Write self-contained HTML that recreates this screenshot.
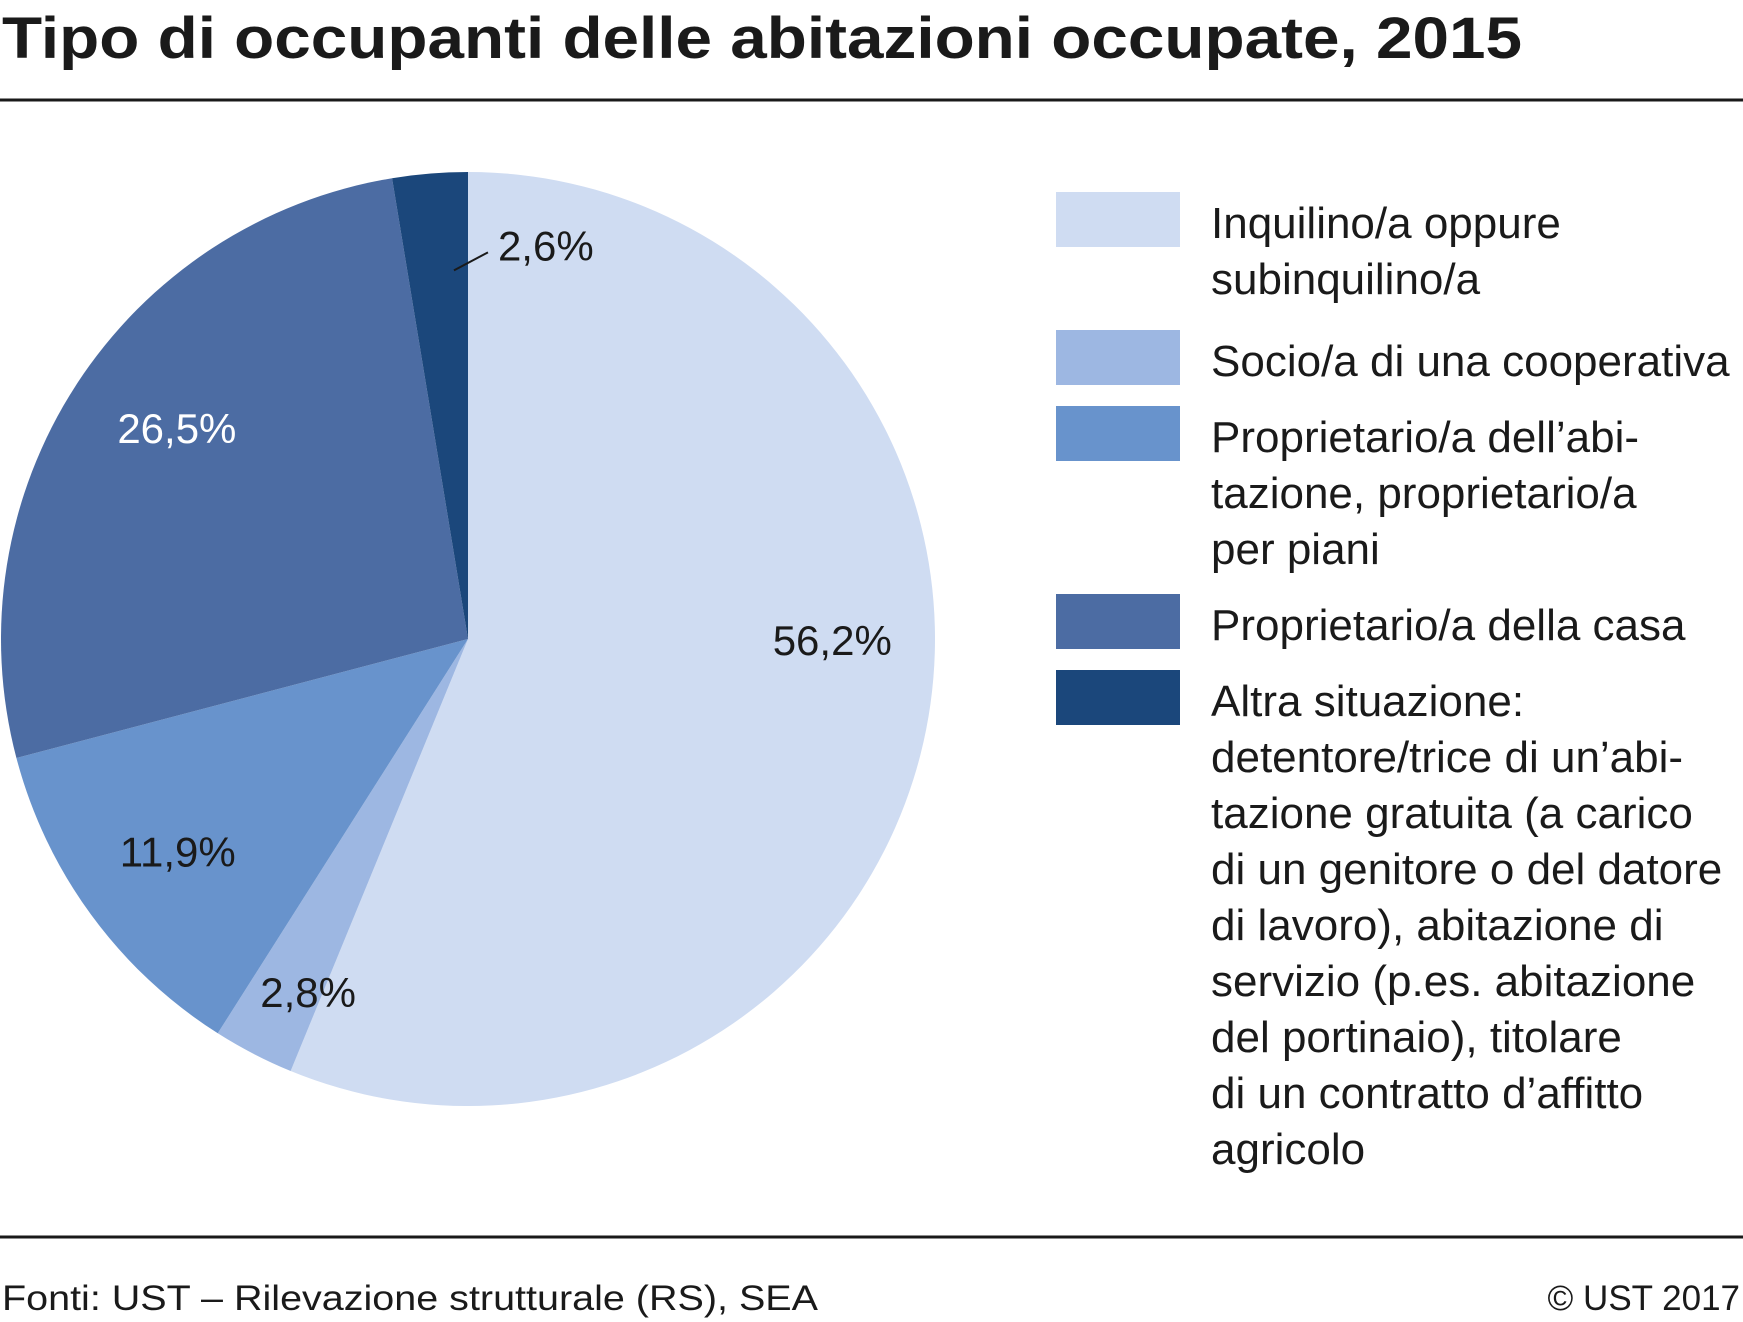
<!DOCTYPE html>
<html><head><meta charset="utf-8"><style>
body{margin:0;background:#fff}
svg{display:block;font-family:"Liberation Sans",sans-serif}
</style></head><body>
<svg width="1743" height="1322" viewBox="0 0 1743 1322">
<text x="2" y="58" font-size="58" font-weight="bold" fill="#1a1a1a" textLength="1520" lengthAdjust="spacingAndGlyphs">Tipo di occupanti delle abitazioni occupate, 2015</text>
<line x1="0" y1="100" x2="1743" y2="100" stroke="#1a1a1a" stroke-width="3"/>
<g id="pie"></g>
<g id="legend"></g>
<line x1="0" y1="1237" x2="1743" y2="1237" stroke="#1a1a1a" stroke-width="3"/>
<text x="2" y="1310" font-size="35" fill="#1a1a1a" textLength="816" lengthAdjust="spacingAndGlyphs">Fonti: UST – Rilevazione strutturale (RS), SEA</text>
<text x="1740" y="1310" font-size="35" fill="#1a1a1a" text-anchor="end">© UST 2017</text>
</svg>
<script>
const categories=["Inquilino/a oppure subinquilino/a","Socio/a di una cooperativa","Proprietario/a dell’abitazione","Proprietario/a della casa","Altra situazione"];
const values=[56.2,2.8,11.9,26.5,2.6];
const valueLabels=["56,2%","2,8%","11,9%","26,5%","2,6%"];
const colors=["#cfdcf2","#9db7e2","#6893cc","#4c6ca3","#1b477b"];
const legendLines=[["Inquilino/a oppure","subinquilino/a"],["Socio/a di una cooperativa"],["Proprietario/a dell’abi-","tazione, proprietario/a","per piani"],["Proprietario/a della casa"],["Altra situazione:","detentore/trice di un’abi-","tazione gratuita (a carico","di un genitore o del datore","di lavoro), abitazione di","servizio (p.es. abitazione","del portinaio), titolare","di un contratto d’affitto","agricolo"]];
const NS="http://www.w3.org/2000/svg";
const cx=468,cy=639,r=467;
const total=values.reduce((a,b)=>a+b,0);
const pie=document.getElementById('pie');
function pt(a,rr){return [cx+rr*Math.sin(a),cy-rr*Math.cos(a)];}
let a0=0;
const labelR=[0.78,0.83,0.77,0.77,0.79];
const labelShift=[-11,-3,0,3,2.5];
values.forEach((v,i)=>{
  const a1=a0+v/total*2*Math.PI;
  const p0=pt(a0,r),p1=pt(a1,r);
  const path=document.createElementNS(NS,'path');
  path.setAttribute('d',`M${cx},${cy}L${p0[0]},${p0[1]}A${r},${r} 0 ${a1-a0>Math.PI?1:0} 1 ${p1[0]},${p1[1]}Z`);
  path.setAttribute('fill',colors[i]);
  
  
  pie.appendChild(path);
  const am=(a0+a1)/2+labelShift[i]*Math.PI/180;
  const t=document.createElementNS(NS,'text');
  t.setAttribute('font-size','42');
  t.setAttribute('fill',i==3?'#fff':'#1a1a1a');
  if(i==4){
    const q1=pt(am,r*labelR[i]),q2=[q1[0]+34,q1[1]-18];
    const ln=document.createElementNS(NS,'line');
    ln.setAttribute('x1',q1[0]);ln.setAttribute('y1',q1[1]);ln.setAttribute('x2',q2[0]);ln.setAttribute('y2',q2[1]);
    ln.setAttribute('stroke','#1a1a1a');ln.setAttribute('stroke-width','2');
    
    
    pie.appendChild(ln);
    t.setAttribute('x',q2[0]+10);t.setAttribute('y',q2[1]+8);
  } else {
    const q=pt(am,r*labelR[i]);
    t.setAttribute('x',q[0]);t.setAttribute('y',q[1]+15);t.setAttribute('text-anchor','middle');
  }
  t.textContent=valueLabels[i];
  
  
  pie.appendChild(t);
  a0=a1;
});
const lg=document.getElementById('legend');
let y=192;
legendLines.forEach((lines,i)=>{
  const g=document.createElementNS(NS,'g');
  
  
  const rc=document.createElementNS(NS,'rect');
  rc.setAttribute('x',1056);rc.setAttribute('y',y);rc.setAttribute('width',124);rc.setAttribute('height',55);rc.setAttribute('fill',colors[i]);
  
  
  g.appendChild(rc);
  lines.forEach((s,j)=>{
    const t=document.createElementNS(NS,'text');
    t.setAttribute('x',1211);t.setAttribute('y',y+46+j*56);t.setAttribute('font-size','44');t.setAttribute('fill','#1a1a1a');
    t.textContent=s;
    
    
    g.appendChild(t);
  });
  lg.appendChild(g);
  y+=lines.length*56+(i==0?26:20);
});
</script>
</body></html>
